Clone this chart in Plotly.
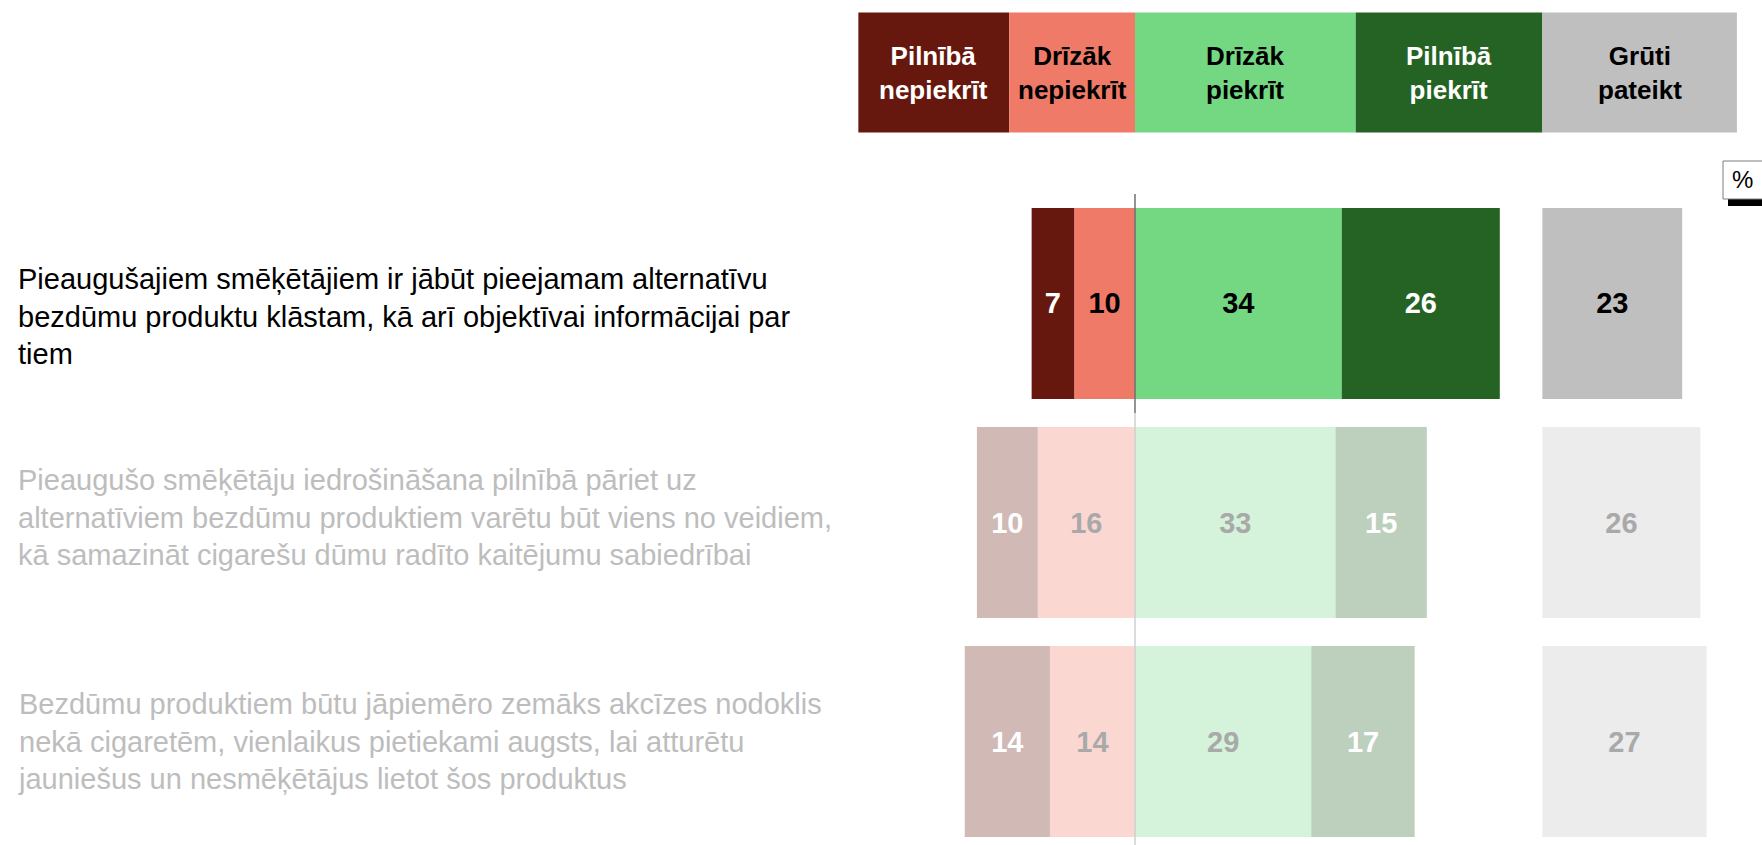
import plotly.graph_objects as go
import numpy as np

# ---------------- data ----------------
statements = [
    "Pieaugušajiem smēķētājiem ir jābūt pieejamam alternatīvu<br>bezdūmu produktu klāstam, kā arī objektīvai informācijai par<br>tiem",
    "Pieaugušo smēķētāju iedrošināšana pilnībā pāriet uz<br>alternatīviem bezdūmu produktiem varētu būt viens no veidiem,<br>kā samazināt cigarešu dūmu radīto kaitējumu sabiedrībai",
    "Bezdūmu produktiem būtu jāpiemēro zemāks akcīzes nodoklis<br>nekā cigaretēm, vienlaikus pietiekami augsts, lai atturētu<br>jauniešus un nesmēķētājus lietot šos produktus",
]
categories = ["Pilnībā<br>nepiekrīt", "Drīzāk<br>nepiekrīt", "Drīzāk<br>piekrīt", "Pilnībā<br>piekrīt", "Grūti<br>pateikt"]
pilniba_nepiekrit = [7, 10, 14]
drizak_nepiekrit = [10, 16, 14]
drizak_piekrit = [34, 33, 29]
pilniba_piekrit = [26, 15, 17]
gruti_pateikt = [23, 26, 27]
highlighted = [True, False, False]

# ---------------- style ----------------
FONT = "Liberation Sans, Arial, sans-serif"
COL_PN = "#67180E"
COL_DN = "#EF7A67"
COL_DP = "#74D883"
COL_PP = "#246323"
COL_GP = "#BFBFBF"
FADE = 0.3
GRAY_BASE = 67.0
TXT_GRAY = "#A9A9A9"

rows = np.arange(len(statements))
opac = [1.0 if h else FADE for h in highlighted]

fig = go.Figure()

def add_bar(vals, base, color, txt_on, txt_off):
    fig.add_trace(go.Bar(
        y=rows, x=vals, base=base, orientation="h", width=0.872,
        marker=dict(color=color, opacity=opac, line=dict(width=0)),
        text=[str(v) for v in vals], textposition="inside",
        insidetextanchor="middle", textangle=0,
        textfont=dict(family=FONT, size=29,
                      color=[txt_on if h else txt_off for h in highlighted]),
        hoverinfo="skip", showlegend=False,
    ))

dn = np.array(drizak_nepiekrit)
pn = np.array(pilniba_nepiekrit)
dp = np.array(drizak_piekrit)
pp = np.array(pilniba_piekrit)
gp = np.array(gruti_pateikt)

add_bar(dn, -dn, COL_DN, "black", TXT_GRAY)
add_bar(pn, -(dn + pn), COL_PN, "white", "white")
add_bar(dp, np.zeros_like(dp), COL_DP, "black", TXT_GRAY)
add_bar(pp, dp, COL_PP, "white", "white")
add_bar(gp, np.full_like(gp, GRAY_BASE, dtype=float), COL_GP, "black", TXT_GRAY)

fig.update_traces(texttemplate="<b>%{text}</b>")

# ---------------- header ----------------
header_edges = [-45.5, -20.7, 0, 36.3, GRAY_BASE, 99.0]
header_cols = [COL_PN, COL_DN, COL_DP, COL_PP, COL_GP]
header_txt = ["white", "black", "black", "white", "black"]
shapes = []
annotations = []
for i, cat in enumerate(categories):
    shapes.append(dict(type="rect", xref="x", yref="paper",
                       x0=header_edges[i], x1=header_edges[i + 1],
                       y0=1 - 132.6 / 845, y1=1 - 12.4 / 845,
                       fillcolor=header_cols[i], line=dict(width=0), layer="below"))
    annotations.append(dict(xref="x", yref="paper",
                            x=(header_edges[i] + header_edges[i + 1]) / 2, y=1 - 72.5 / 845,
                            text="<b>" + cat + "</b>", showarrow=False,
                            font=dict(family=FONT, size=26, color=header_txt[i]),
                            xanchor="center", yanchor="middle", align="center"))

# zero lines
shapes.append(dict(type="line", xref="x", yref="y", x0=0, x1=0, y0=-0.5, y1=0.5,
                   line=dict(color="#707070", width=1.5), layer="above"))
shapes.append(dict(type="line", xref="x", yref="y", x0=0, x1=0, y0=0.5, y1=2.6,
                   line=dict(color="#CFCFCF", width=1.5), layer="above"))

# percent box
shapes.append(dict(type="rect", xref="paper", yref="paper",
                   x0=1728 / 1762, x1=1.0, y0=1 - 206 / 845, y1=1 - 199 / 845,
                   fillcolor="black", line=dict(width=0)))
shapes.append(dict(type="rect", xref="paper", yref="paper",
                   x0=1723 / 1762, x1=1.02, y0=1 - 199 / 845, y1=1 - 161 / 845,
                   fillcolor="white", line=dict(color="#7F7F7F", width=1)))
annotations.append(dict(xref="paper", yref="paper", x=1742 / 1762, y=1 - 180 / 845,
                        text="%", showarrow=False, xanchor="center", yanchor="middle",
                        font=dict(family=FONT, size=24, color="black")))

# statement labels
label_shift = [-13, 5, 0]
for i, s in enumerate(statements):
    annotations.append(dict(xref="paper", yref="y", x=16 / 1762, y=rows[i],
                            text=s, showarrow=False, xanchor="left", yanchor="middle",
                            align="left", yshift=label_shift[i],
                            font=dict(family=FONT, size=29,
                                      color="black" if highlighted[i] else "#BDBDBD")))

fig.update_layout(
    width=1762, height=845,
    margin=dict(l=0, r=0, t=0, b=0),
    barmode="overlay",
    plot_bgcolor="white", paper_bgcolor="white",
    xaxis=dict(visible=False, range=[-1135 / 6.08, 627 / 6.08], fixedrange=True),
    yaxis=dict(visible=False, range=[2.472, -1.385], fixedrange=True),
    shapes=shapes, annotations=annotations,
    showlegend=False,
)

fig.write_html("out.html", config={"displayModeBar": False},
               post_script="document.body.style.margin='0px';document.body.style.overflow='hidden';")
